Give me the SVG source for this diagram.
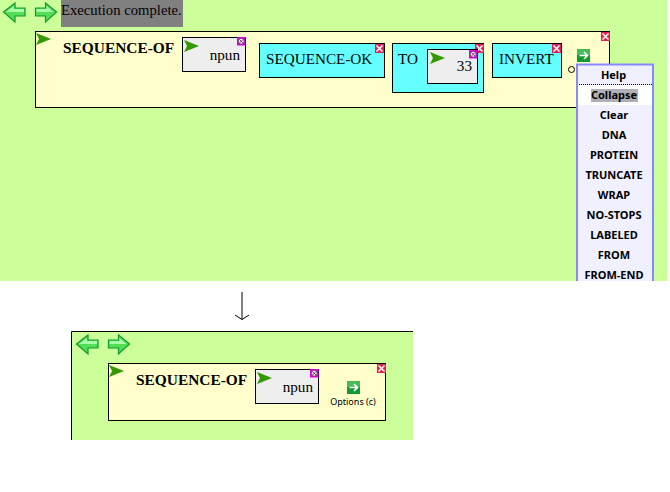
<svg xmlns="http://www.w3.org/2000/svg" width="670" height="492" viewBox="0 0 670 492">
<style>
.s{font-family:"Liberation Serif","Times New Roman",serif;fill:#000}
.t{font-size:15.200px}
.b{font-size:15.400px;font-weight:bold}
.r{text-anchor:end}
.box{stroke:#000;stroke-width:1}
.y{fill:#ffffcc}.c{fill:#66ffff}.g{fill:#eeeeee}
.m{font-family:"Noto Sans","DejaVu Sans",sans-serif;font-size:11px;font-weight:bold;text-anchor:middle;fill:#000}
</style>
<defs>
<g id="flag"><path d="M0 0L15 6L0 12L3 6Z" fill="#339900"/></g>
<g id="xr"><rect width="9" height="9" fill="#dd2255"/><path d="M1.500 1.500L7.500 7.500M7.500 1.500L1.500 7.500" stroke="#fff" stroke-width="1.500"/></g>
<g id="xp"><rect width="8.500" height="8.500" fill="#dd00dd"/><circle cx="4.200" cy="4.200" r="3" fill="#f4e8f4" stroke="#662266" stroke-width="0.800"/><path d="M2.500 2.500L6 6M6 2.500L2.500 6" stroke="#662266" stroke-width="0.800"/></g>
<g id="la"><path d="M0.500 10L12 1V6H22V14H12V20Z" fill="#55dd55" stroke="#119933" stroke-width="1.200"/><path d="M3 10L11 4V7H21V10Z" fill="#aaffaa"/></g>
<g id="ra"><path d="M22 10L11 1V6H1V14H11V20Z" fill="#55dd55" stroke="#119933" stroke-width="1.200"/><path d="M2 7H12V4L19 10H2Z" fill="#aaffaa"/></g>
<g id="opt"><rect width="13" height="13" fill="#119933"/><rect width="13" height="6" fill="#44bb55"/><path d="M2.500 6.500H10M7 3L10.500 6.500L7 10" fill="none" stroke="#fff" stroke-width="1.700"/></g>
</defs>
<rect width="667" height="281" fill="#ccff99"/>
<g id="connectors">
<path d="M242 292V319.500M235 315L242 319.500L249 315" fill="none" stroke="#000" stroke-width="1"/>
</g>
<g id="toolbar">
<use href="#la" x="3" y="2"/>
<use href="#ra" x="34.500" y="2"/>
<rect x="61" width="122" height="27" fill="#808080"/>
<text class="s" x="61" y="15" font-size="14.700">Execution complete.</text>
</g>
<g id="sequence-of">
<rect class="box y" x="35.500" y="31.500" width="574" height="76"/>
<use href="#flag" x="36" y="33"/>
<use href="#xr" x="601" y="32"/>
<text class="s b" x="63" y="53">SEQUENCE-OF</text>
</g>
<g id="npun">
<rect class="box g" x="182.500" y="37.500" width="63" height="34"/>
<use href="#flag" x="184" y="40"/>
<use href="#xp" x="237" y="37"/>
<text class="s t r" x="240" y="60">npun</text>
</g>
<g id="sequence-ok">
<rect class="box c" x="259.500" y="43.500" width="125" height="34"/>
<use href="#xr" x="375" y="44"/>
<text class="s t" x="266" y="64">SEQUENCE-OK</text>
</g>
<g id="to">
<rect class="box c" x="392.500" y="43.500" width="91" height="49"/>
<use href="#xr" x="475" y="44"/>
<text class="s t" x="398" y="64">TO</text>
<rect class="box g" x="427.500" y="49.500" width="50" height="34"/>
<use href="#flag" x="430" y="52"/>
<use href="#xp" x="469" y="50"/>
<text class="s t r" x="472" y="71">33</text>
</g>
<g id="invert">
<rect class="box c" x="492.500" y="43.500" width="69" height="34"/>
<use href="#xr" x="552" y="44"/>
<text class="s t" x="499" y="64">INVERT</text>
</g>
<g id="options-top">
<use href="#opt" x="577" y="49"/>
<circle cx="571.500" cy="69.500" r="3" fill="none" stroke="#000" stroke-width="1"/>
</g>
<g id="menu">
<rect x="577" y="64" width="76" height="217" fill="#f0f0ff"/>
<path d="M577 281V64.500H653V281" fill="none" stroke="#8888ff" stroke-width="2"/>
<rect x="578" y="85" width="74" height="20" fill="#ffffff"/>
<path d="M579 84.500H652" stroke="#000" stroke-width="1" stroke-dasharray="1 1"/>
<rect x="591" y="89" width="47" height="13" fill="#b0b0b8"/>
<text class="m" x="613.500" y="79">Help</text>
<text class="m" x="614" y="99">Collapse</text>
<text class="m" x="614" y="119">Clear</text>
<text class="m" x="614" y="139">DNA</text>
<text class="m" x="614" y="159">PROTEIN</text>
<text class="m" x="614" y="179">TRUNCATE</text>
<text class="m" x="614" y="199">WRAP</text>
<text class="m" x="614" y="219">NO-STOPS</text>
<text class="m" x="614" y="239">LABELED</text>
<text class="m" x="614" y="259">FROM</text>
<text class="m" x="614" y="279">FROM-END</text>
</g>
<g id="panel">
<rect x="71" y="332" width="342" height="108" fill="#ccff99"/>
<path d="M71.500 440V331.500H413" fill="none" stroke="#000" stroke-width="1"/>
<use href="#la" x="76" y="334"/>
<use href="#ra" x="107.500" y="334"/>
</g>
<g id="sequence-of-collapsed">
<rect class="box y" x="108.500" y="363.500" width="277" height="57"/>
<use href="#flag" x="109" y="365"/>
<use href="#xr" x="377" y="364"/>
<text class="s b" x="136" y="385">SEQUENCE-OF</text>
</g>
<g id="npun-collapsed">
<rect class="box g" x="255.500" y="369.500" width="63" height="34"/>
<use href="#flag" x="257" y="372"/>
<use href="#xp" x="310" y="369"/>
<text class="s t r" x="313" y="392">npun</text>
</g>
<g id="options-collapsed">
<use href="#opt" x="347" y="381"/>
<text x="353" y="405" font-family="'Noto Sans','DejaVu Sans',sans-serif" font-size="9" text-anchor="middle">Options (c)</text>
</g>
</svg>
